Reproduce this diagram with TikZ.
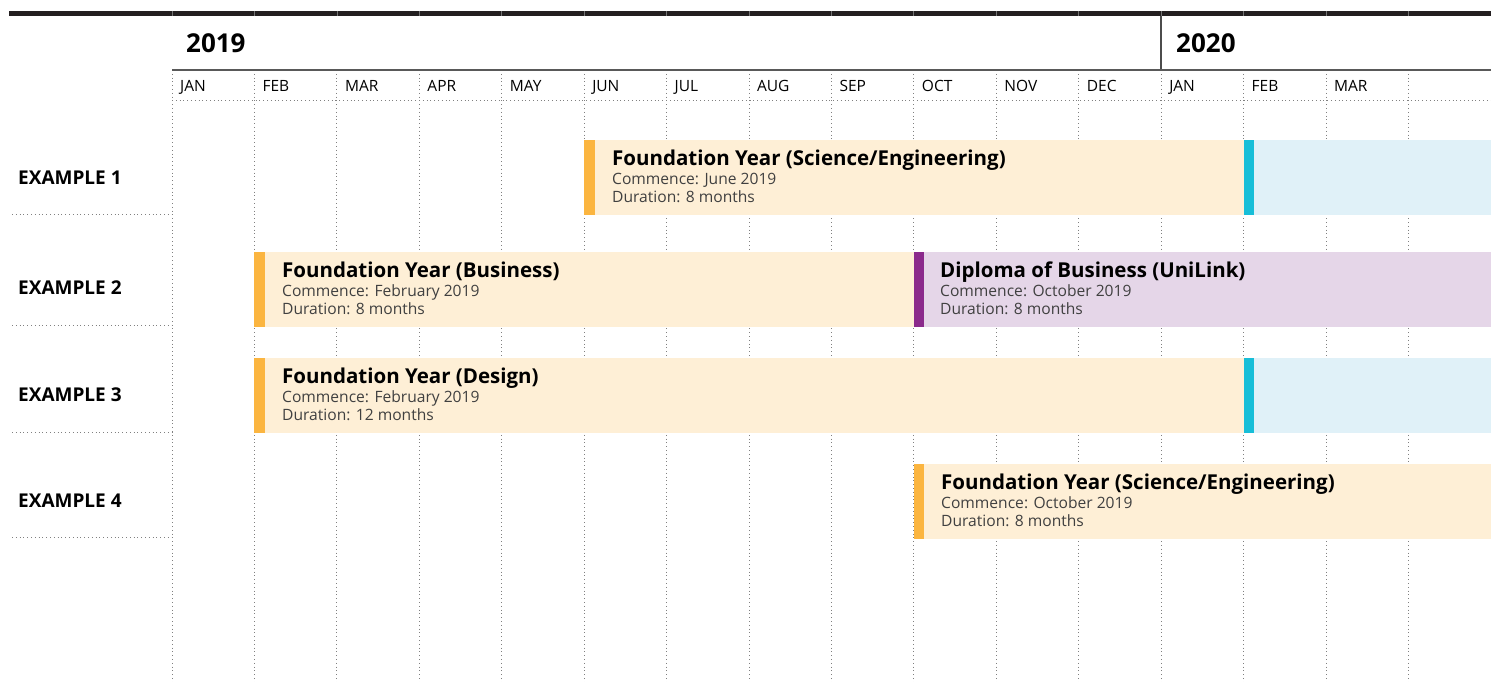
\documentclass[tikz,border=0pt]{standalone}
\usepackage{fontspec}
\setmainfont{Open Sans}
\definecolor{topbar}{HTML}{231F20}
\definecolor{orl}{HTML}{FEEFD6}
\definecolor{ora}{HTML}{FBB540}
\definecolor{cya}{HTML}{17BED8}
\definecolor{cyl}{HTML}{E0F1F8}
\definecolor{pua}{HTML}{8B2A8C}
\definecolor{pul}{HTML}{E5D6E8}
\definecolor{subtxt}{HTML}{404040}
\begin{document}
\begin{tikzpicture}[x=1pt,y=-1pt,
  grid/.style={draw=black!50,line width=0.7pt,dash pattern=on 0.8pt off 3pt},
  rowlab/.style={anchor=base west,inner sep=0,font=\bfseries\fontsize{19}{22}\selectfont},
  monlab/.style={anchor=base west,inner sep=0,font=\fontsize{15.5}{18}\selectfont},
  yearlab/.style={anchor=base west,inner sep=0,font=\bfseries\fontsize{26}{30}\selectfont},
  bartitle/.style={anchor=base west,inner sep=0,font=\bfseries\fontsize{20.5}{24}\selectfont},
  barsub/.style={anchor=base west,inner sep=0,text=subtxt,font=\fontsize{15.6}{18}\selectfont}]
\useasboundingbox (0,0) rectangle (1491,682);
% top bar
\fill[topbar] (9,11) rectangle (1491,16.5);
\foreach \i in {0,...,15}{
  \pgfmathsetmacro\xx{172+\i*82.42}
  \draw[black!55,line width=0.6pt] (\xx,11) -- (\xx,16.5);
  \draw[grid] (\xx,70) -- (\xx,682);
}
\draw[black!70,line width=1.4pt] (1161,16.5) -- (1161,70);
\draw[black!65,line width=1.4pt] (172,70) -- (1491,70);
\draw[grid] (172,100) -- (1491,100);
\foreach \yy in {214,325.5,432,537.5}{
  \draw[grid] (12,\yy) -- (172,\yy);
}
% year labels
\node[yearlab] (y2019) at (186,52.3) {2019};
\node[yearlab] (y2020) at (1176,52.3) {2020};
% months
\foreach \m [count=\i from 0] in {JAN,FEB,MAR,APR,MAY,JUN,JUL,AUG,SEP,OCT,NOV,DEC,JAN,FEB,MAR}{
  \pgfmathsetmacro\xx{172+\i*82.42+8}
  \node[monlab] (m\i) at (\xx,91.5) {\m};
}
% row labels
\node[rowlab] (r1) at (18,184) {EXAMPLE 1};
\node[rowlab] (r2) at (18,294.5) {EXAMPLE 2};
\node[rowlab] (r3) at (18,401) {EXAMPLE 3};
\node[rowlab] (r4) at (18,507) {EXAMPLE 4};
% Example 1
\fill[orl] (584.1,140) rectangle (1243.5,214.5);
\fill[ora] (584.1,140) rectangle (594.5,214.5);
\fill[cya] (1243.5,140) rectangle (1254,214.5);
\fill[cyl] (1254,140) rectangle (1491,214.5);
\node[bartitle] (t1) at (612,165.5) {Foundation Year (Science/Engineering)};
\node[barsub] (c1) at (612,184) {Commence: June 2019};
\node[barsub] (d1) at (612,202.5) {Duration: 8 months};
% Example 2
\fill[orl] (254.4,252) rectangle (913.8,326.5);
\fill[ora] (254.4,252) rectangle (264.8,326.5);
\fill[pua] (913.8,252) rectangle (924.2,326.5);
\fill[pul] (924.2,252) rectangle (1491,326.5);
\node[bartitle] (t2) at (282,277.5) {Foundation Year (Business)};
\node[barsub] (c2) at (282,296) {Commence: February 2019};
\node[barsub] (d2) at (282,314.5) {Duration: 8 months};
\node[bartitle] (t3) at (940,277.5) {Diploma of Business (UniLink)};
\node[barsub] (c3) at (940,296) {Commence: October 2019};
\node[barsub] (d3) at (940,314.5) {Duration: 8 months};
% Example 3
\fill[orl] (254.4,358) rectangle (1243.5,432.5);
\fill[ora] (254.4,358) rectangle (264.8,432.5);
\fill[cya] (1243.5,358) rectangle (1254,432.5);
\fill[cyl] (1254,358) rectangle (1491,432.5);
\node[bartitle] (t4) at (282,383.5) {Foundation Year (Design)};
\node[barsub] (c4) at (282,402) {Commence: February 2019};
\node[barsub] (d4) at (282,420.5) {Duration: 12 months};
% Example 4
\fill[orl] (913.8,464) rectangle (1491,538.5);
\fill[ora] (913.8,464) rectangle (924.2,538.5);
\node[bartitle] (t5) at (941,489.5) {Foundation Year (Science/Engineering)};
\node[barsub] (c5) at (941,508) {Commence: October 2019};
\node[barsub] (d5) at (941,526.5) {Duration: 8 months};
\end{tikzpicture}
\end{document}
